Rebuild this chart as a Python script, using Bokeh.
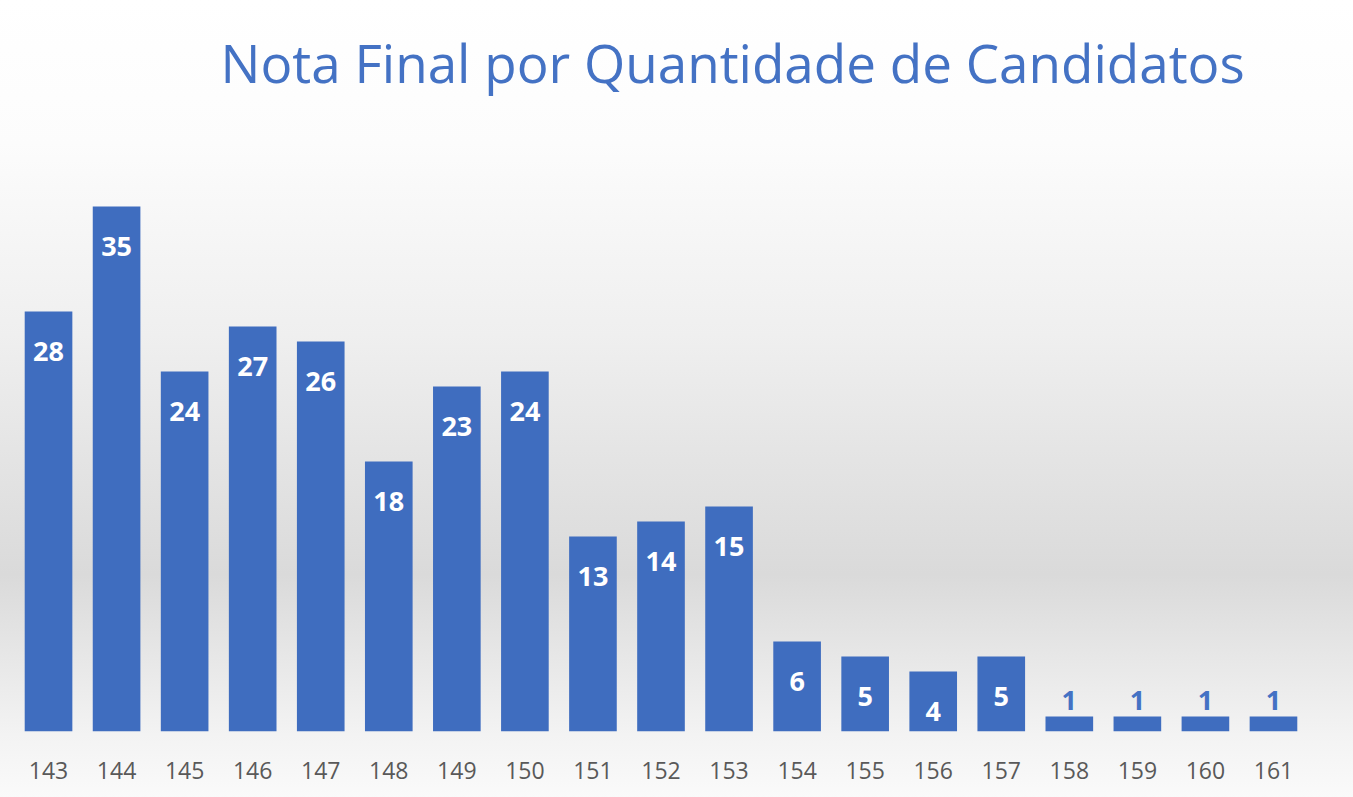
from bokeh.plotting import figure
from bokeh.models import ColumnDataSource, Range1d, Title
from bokeh.core.properties import value
from bokeh.embed import file_html
from bokeh.resources import INLINE

notas = ["143", "144", "145", "146", "147", "148", "149", "150", "151", "152",
         "153", "154", "155", "156", "157", "158", "159", "160", "161"]
candidatos = [28, 35, 24, 27, 26, 18, 23, 24, 13, 14, 15, 6, 5, 4, 5, 1, 1, 1, 1]
titulo = "Nota Final por Quantidade de Candidatos"

BLUE = "#4472C4"
BAR = "#3f6dbf"

label_colors = ["white" if v > 1 else BLUE for v in candidatos]
label_offsets = [40 if v > 3 else (30 if v > 1 else -16) for v in candidatos]

src = ColumnDataSource(dict(nota=notas, n=candidatos, txt=[str(v) for v in candidatos],
                            tc=label_colors, yo=label_offsets))

p = figure(x_range=notas, y_range=Range1d(0, 40.4), output_backend="svg",
           toolbar_location=None, frame_width=1293, frame_height=606,
           min_border_left=14, min_border_right=46, min_border_bottom=67, min_border_top=124)

p.styles = {"background": "linear-gradient(to bottom, #ffffff 0%, #fcfcfc 18%, #efefef 42%, #dadada 72%, #e4e4e4 80%, #f3f3f3 92%, #fafafa 100%)"}
p.background_fill_alpha = 0
p.border_fill_alpha = 0
p.outline_line_color = None

p.vbar(x="nota", top="n", width=0.7, source=src, fill_color=BAR, line_color=None)
p.text(x="nota", y="n", text="txt", source=src, text_color="tc", y_offset="yo",
       text_align="center", text_baseline="middle", text_font=value("Open Sans"),
       text_font_style="bold", text_font_size="27px")

t = Title(text=titulo, align="left", offset=206, vertical_align="top",
          text_font="Open Sans", text_font_style="normal", text_font_size="53px",
          text_color=BLUE, standoff=50)
p.add_layout(t, "above")

p.yaxis.visible = False
p.xgrid.grid_line_color = None
p.ygrid.grid_line_color = None
p.xaxis.axis_line_color = None
p.xaxis.major_tick_line_color = None
p.xaxis.minor_tick_line_color = None
p.xaxis.major_tick_out = 0
p.xaxis.major_label_standoff = 30
p.xaxis.major_label_text_font = "Open Sans"
p.xaxis.major_label_text_font_size = "23px"
p.xaxis.major_label_text_color = "#595959"
p.xaxis.major_label_text_font_style = "normal"

open("out.html", "w").write(file_html(p, INLINE))
